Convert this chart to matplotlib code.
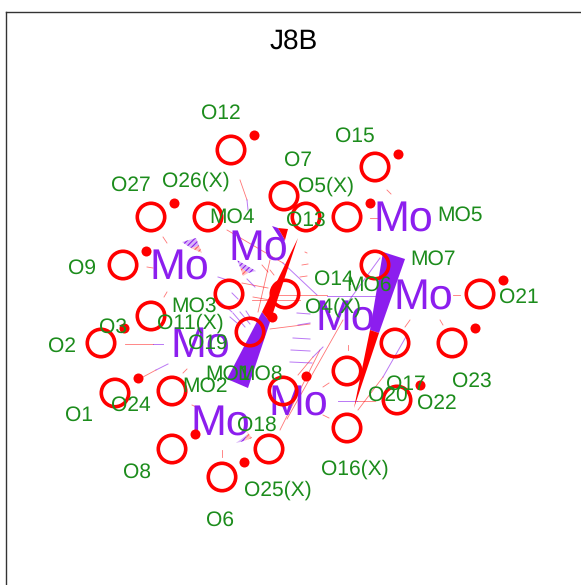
import matplotlib
matplotlib.use('Agg')
import matplotlib.pyplot as plt
from matplotlib.patches import Polygon

plt.rcParams['font.family'] = ['Liberation Sans', 'DejaVu Sans']
plt.rcParams['hatch.linewidth'] = 0.8
plt.rcParams['text.hinting'] = 'no_hinting'
plt.rcParams['text.hinting_factor'] = 1

RED = '#ff0000'
PURPLE = '#8c1eee'
GREEN = '#1c8c1c'

# atoms (pixel positions)
oxygen_x = [231, 375, 284, 151, 208, 306, 347, 123, 375, 229, 285, 151, 480, 101, 452, 395, 250, 347, 115, 172, 283, 397, 347, 172, 269, 222]
oxygen_y = [150, 167, 196, 217, 217, 217, 217, 265, 265, 294, 294, 316, 294, 343, 343, 343, 332, 371, 393, 391, 391, 400, 428, 449, 449, 477]

dot_x = [254, 398, 174, 370, 146, 503, 124, 475, 272, 138, 306, 420, 195, 244]
dot_y = [135, 154, 203, 203, 251, 280, 328, 328, 317, 378, 376, 385, 434, 462]

mo_x = [258, 403, 179, 423, 345, 200, 298, 220]
mo_y = [247, 218, 266, 296, 317, 344, 402, 422]

labels = ['O12', 'O15', 'O7', 'O26(X)', 'O27', 'O5(X)', 'MO4', 'O13', 'MO5', 'MO7', 'O9', 'O14', 'MO6',
          'O4(X)', 'O21', 'MO3', 'O11(X)', 'O3', 'O19', 'O2', 'MO1', 'MO8', 'MO2', 'O24', 'O1', 'O23',
          'O17', 'O20', 'O22', 'O18', 'O8', 'O16(X)', 'O25(X)', 'O6']
label_x = [221, 355, 298, 196, 131, 326, 232, 306, 460, 433, 82, 334, 369,
           333, 519, 194, 190, 113, 208, 62, 228, 260, 205, 131, 79, 472,
           406, 388, 437, 257, 137, 355, 278, 220]
label_y = [111, 134, 158, 179, 183, 184, 215, 218, 213, 257, 266, 277, 283,
           305, 295, 304, 321, 325, 341, 344, 372, 372, 384, 403, 413, 379,
           382, 393, 401, 423, 470, 467, 488, 518]

# thick bonds: corners of each half
solid_red = [[(298, 238), (262, 312), (270, 322)],
             [(354, 408), (370, 330), (379, 333)],
             [(288, 229), (278, 228), (285, 240)]]
solid_purple = [[(262, 312), (270, 322), (248, 388), (227, 379)],
                [(370, 330), (379, 333), (405, 259), (383, 252)],
                [(272, 226), (278, 228), (285, 240), (283, 243)]]

# thin bonds, each half on its own
thin_red = [(240, 180, 247, 200), (163, 237, 167, 243), (147, 267, 153, 268), (164, 297, 167, 292),
            (125, 344, 153, 344), (143, 377, 156, 370), (183, 373, 187, 369), (227, 230, 283, 263),
            (270, 260, 258, 312), (252, 300, 300, 300), (270, 295, 327, 295), (270, 329, 310, 324),
            (287, 419, 343, 320), (313, 357, 298, 375), (410, 320, 405, 327), (440, 320, 443, 325),
            (453, 295, 460, 295), (387, 190, 391, 194), (370, 218, 377, 218), (383, 377, 358, 410),
            (357, 401, 375, 401), (348, 345, 348, 350), (323, 387, 329, 383), (323, 415, 329, 418),
            (280, 430, 320, 350), (192, 405, 198, 408), (222, 450, 222, 457), (305, 252, 307, 253),
            (302, 265, 308, 264), (300, 277, 307, 276), (242, 283, 268, 288), (270, 270, 274, 275),
            (253, 297, 270, 300), (262, 265, 268, 272)]
thin_purple = [(247, 200, 248, 210), (153, 344, 163, 344), (156, 370, 168, 364), (283, 263, 317, 295),
               (327, 296, 375, 296), (380, 258, 337, 317), (323, 347, 313, 357), (407, 335, 383, 377),
               (338, 401, 357, 401), (297, 313, 310, 314), (298, 325, 310, 323), (293, 338, 310, 339),
               (291, 350, 310, 351), (290, 362, 312, 363), (218, 277, 237, 283), (232, 293, 238, 299),
               (218, 300, 232, 312), (233, 313, 245, 327), (230, 317, 237, 323), (240, 312, 250, 324),
               (247, 279, 255, 287), (246, 311, 252, 320)]

# hatched bonds, purple half then red half
hatch_purple = [[(182, 242), (196, 238), (199, 246), (191, 248)],
                [(237, 260), (256, 271), (248, 273), (240, 267)],
                [(236, 443), (244, 441), (248, 434)]]
hatch_red = [[(196, 238), (202, 253), (191, 248), (199, 246)],
             [(240, 267), (248, 273), (243, 276)],
             [(244, 441), (252, 438), (245, 429), (248, 434)]]

fig = plt.figure(figsize=(5.81, 5.85), dpi=100)
ax = fig.add_axes([5.5 / 581, 0, 1, 1 - 11.5 / 585])
ax.set_xlim(5.5, 5.5 + 581)
ax.set_ylim(585, 11.5)
ax.set_xticks([])
ax.set_yticks([])
ax.spines['right'].set_visible(False)
ax.spines['bottom'].set_visible(False)
ax.spines['left'].set_color('#333333')
ax.spines['top'].set_color('#333333')
ax.spines['left'].set_linewidth(1.0)
ax.spines['top'].set_linewidth(1.0)

for (x1, y1, x2, y2) in thin_red:
    ax.plot([x1, x2], [y1, y2], color=RED, lw=0.6, alpha=0.55, zorder=1)
for (x1, y1, x2, y2) in thin_purple:
    ax.plot([x1, x2], [y1, y2], color=PURPLE, lw=0.7, alpha=0.6, zorder=1)

for pts in hatch_purple:
    ax.add_patch(Polygon(pts, closed=True, facecolor='#d9b5f8', edgecolor=PURPLE, lw=0, hatch='//////', zorder=1))
for pts in hatch_red:
    ax.add_patch(Polygon(pts, closed=True, facecolor='#ffc4c4', edgecolor='#ff6060', lw=0, hatch='//////', zorder=1))

for pts in solid_purple:
    ax.add_patch(Polygon(pts, closed=True, facecolor=PURPLE, edgecolor='none', zorder=2))
for pts in solid_red:
    ax.add_patch(Polygon(pts, closed=True, facecolor=RED, edgecolor='none', zorder=2))

for x, y in zip(mo_x, mo_y):
    ax.text(x, y + 2, 'Mo', color=PURPLE, fontsize=31, ha='center', va='center', zorder=3)

ax.scatter(dot_x, dot_y, s=52, color=RED, linewidths=0, zorder=4)
ax.scatter(oxygen_x, oxygen_y, s=390, facecolors='none', edgecolors=RED, linewidths=2.6, zorder=4)

for name, x, y in zip(labels, label_x, label_y):
    ax.text(x, y + 2, name, color=GREEN, fontsize=15.3, ha='center', va='center', zorder=5)

ax.text(294, 41, 'J8B', color='black', fontsize=20, ha='center', va='center')

fig.savefig('out.png', dpi=100)
